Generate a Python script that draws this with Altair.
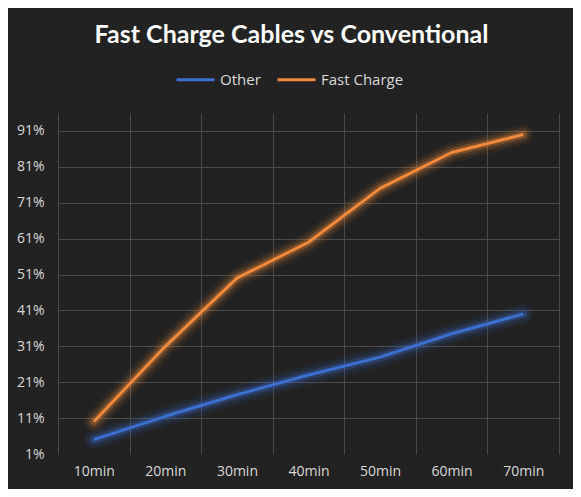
import altair as alt
import pandas as pd

categories = ["10min", "20min", "30min", "40min", "50min", "60min", "70min"]
other = [5, 11.5, 17.5, 23, 28, 34.5, 40]
fast = [10, 31, 50, 60, 75, 85, 90]
series_names = ["Other", "Fast Charge"]
tick_values = [1, 11, 21, 31, 41, 51, 61, 71, 81, 91]

rows = []
for c, v in zip(categories, other):
    rows.append({"time": c, "value": v, "series": "Other"})
for c, v in zip(categories, fast):
    rows.append({"time": c, "value": v, "series": "Fast Charge"})
df = pd.DataFrame(rows)

label_color = "#d9d9d9"
grid_color = "#4a4a4a"

x = alt.X("time:N", sort=categories, title=None,
          scale=alt.Scale(type="band", paddingInner=0, paddingOuter=0),
          axis=alt.Axis(tickBand="extent", grid=True, gridColor=grid_color, gridWidth=1,
                        domain=False, ticks=False, labelAngle=0, labelColor=label_color,
                        labelFont="Open Sans", labelFontSize=14, labelPadding=10))
y = alt.Y("value:Q", title=None,
          scale=alt.Scale(domain=[1, 96], nice=False, zero=False),
          axis=alt.Axis(values=tick_values, labelExpr="datum.value + '%'",
                        grid=True, gridColor=grid_color, gridWidth=1,
                        gridOpacity={"condition": {"test": "datum.value == 1", "value": 0}, "value": 1},
                        domain=False, ticks=False, labelColor=label_color,
                        labelFont="Open Sans", labelFontSize=14, labelPadding=14))

legend = alt.Legend(title=None, orient="none", legendX=117, legendY=-54, direction="horizontal",
                    symbolType="stroke", symbolSize=1444, symbolStrokeWidth=3, symbolOpacity=1,
                    labelColor=label_color, labelFont="Open Sans", labelFontSize=15,
                    labelOffset=4, columnPadding=10)

color_core = alt.Color("series:N", sort=series_names,
                       scale=alt.Scale(domain=series_names, range=["#3d6fd0", "#f28a3c"]),
                       legend=legend)

base = alt.Chart(df).encode(x=x, y=y, color=color_core, detail="series:N")

glow1 = base.mark_line(strokeWidth=20, opacity=0.07, strokeCap="round", strokeJoin="round")
glow2 = base.mark_line(strokeWidth=14, opacity=0.12, strokeCap="round", strokeJoin="round")
glow3 = base.mark_line(strokeWidth=8, opacity=0.28, strokeCap="round", strokeJoin="round")
core = base.mark_line(strokeWidth=3, opacity=1, strokeJoin="round")

chart = alt.layer(glow1, glow2, glow3, core).properties(
    width=501, height=341,
    autosize=alt.AutoSizeParams(type="none"),
    padding={"left": 50, "top": 105, "right": 14, "bottom": 35},
    background="#222222",
    title=alt.TitleParams("Fast Charge Cables vs Conventional", fontSize=25, fontWeight="bold",
                          color="#ffffff", font="Lato", anchor="middle", dx=-17, dy=-7),
).configure_view(stroke=None)

chart.save("out.html", embed_options={"renderer": "svg", "actions": False})
